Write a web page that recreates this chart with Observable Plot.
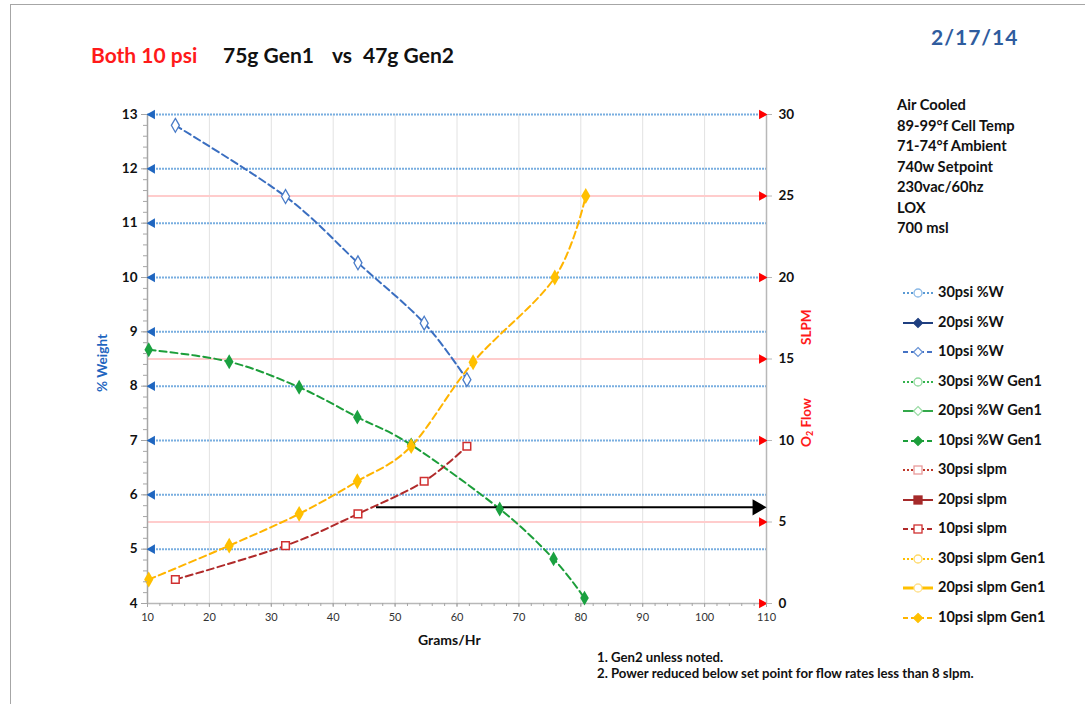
<!DOCTYPE html>
<html>
<head>
<meta charset="utf-8">
<script src="https://cdn.jsdelivr.net/npm/d3@7"></script>
<script src="https://cdn.jsdelivr.net/npm/@observablehq/plot@0.6"></script>
<style>
  html, body { margin: 0; padding: 0; background: #fff; }
  #wrap { position: relative; width: 1085px; height: 704px; overflow: hidden; font-family: Lato, "Open Sans", sans-serif; }
  .t { position: absolute; white-space: pre; font-weight: bold; line-height: 1; }
  #frame { position: absolute; left: 10px; top: 4px; width: 1090px; height: 720px; border: 1.5px solid #a6a6a6; box-sizing: border-box; }
  #legend { position: absolute; left: 895px; top: 280px; }
  .li { position: absolute; left: 0; height: 20px; width: 190px; }
  .li svg { position: absolute; left: 0; top: 0; }
  .li span { position: absolute; left: 43px; top: 3px; font-weight: bold; font-size: 14.5px; color: #111; white-space: pre; }
  .rot { transform: rotate(-90deg); transform-origin: 0 0; }
</style>
</head>
<body>
<div id="wrap">
  <div id="frame"></div>
  <div id="chart" style="position:absolute;left:0;top:0;"></div>
  <div class="t" style="left:91px;top:44px;font-size:21px;color:#ff1a1a;">Both 10 psi</div>
  <div class="t" style="left:223px;top:44px;font-size:21px;color:#111;">75g Gen1</div>
  <div class="t" style="left:332px;top:44px;font-size:21px;color:#111;">vs</div>
  <div class="t" style="left:363px;top:44px;font-size:21px;color:#111;">47g Gen2</div>
  <div class="t" style="left:931px;top:26px;font-size:21px;color:#2f5c9e;letter-spacing:1px;">2/17/14</div>
  <div id="info"></div>
  <div id="legend"></div>
  <div class="t rot" style="left:96px;top:392px;font-size:13.5px;color:#1f66c0;">% Weight</div>
  <div class="t rot" style="left:800px;top:447px;font-size:13.5px;color:#ff1a1a;">O<sub style="font-size:9px;vertical-align:-2px">2</sub> Flow</div>
  <div class="t rot" style="left:800px;top:345px;font-size:13.5px;color:#ff1a1a;">SLPM</div>
  <div class="t" style="left:418px;top:633px;font-size:14px;color:#111;">Grams/Hr</div>
  <div class="t" style="left:597px;top:651px;font-size:13.2px;color:#111;">1. Gen2 unless noted.</div>
  <div class="t" style="left:597px;top:667px;font-size:13.2px;color:#111;">2. Power reduced below set point for flow rates less than 8 slpm.</div>
</div>
<script>
// ---- data ----
const gen2WeightX = [14.5, 32.3, 44.0, 54.7, 61.6];
const gen2WeightY = [12.8, 11.49, 10.27, 9.16, 8.12];
const gen1WeightX = [10.2, 23.2, 34.5, 43.9, 52.6, 66.9, 75.6, 80.6];
const gen1WeightY = [8.67, 8.45, 7.98, 7.43, 6.92, 5.74, 4.82, 4.1];
const gen2FlowX = [14.5, 32.3, 44.0, 54.7, 61.6];
const gen2FlowY = [1.47, 3.55, 5.5, 7.5, 9.65];
const gen1FlowX = [10.2, 23.2, 34.5, 43.9, 52.6, 62.6, 75.8, 80.8];
const gen1FlowY = [1.47, 3.55, 5.5, 7.5, 9.65, 14.8, 20.0, 25.0];
const arrowLine = {x1: 47, x2: 110, y: 5.77};

const xTicks = [10, 20, 30, 40, 50, 60, 70, 80, 90, 100, 110];
const leftTicks = [4, 5, 6, 7, 8, 9, 10, 11, 12, 13];
const rightTicks = [0, 5, 10, 15, 20, 25, 30];
const blueGrid = [5, 6, 7, 8, 9, 10, 11, 12, 13];
const pinkGrid = [5, 15, 25];
const xGrid = [20, 30, 40, 50, 60, 70, 80, 90, 100];

const infoLines = ["Air Cooled", "89-99°f Cell Temp", "71-74°f Ambient", "740w Setpoint", "230vac/60hz", "LOX", "700 msl"];
const legendLabels = ["30psi %W", "20psi %W", "10psi %W", "30psi %W Gen1", "20psi %W Gen1", "10psi %W Gen1",
  "30psi slpm", "20psi slpm", "10psi slpm", "30psi slpm Gen1", "20psi slpm Gen1", "10psi slpm Gen1"];

// right axis (SLPM 0..30) mapped onto left axis (%W 4..13)
const toLeft = v => 4 + v * 9 / 30;
const toRight = v => Math.round((v - 4) * 30 / 9);

const zip = (xs, ys) => xs.map((x, i) => ({x, y: ys[i]}));
const g2w = zip(gen2WeightX, gen2WeightY);
const g1w = zip(gen1WeightX, gen1WeightY);
const g2f = zip(gen2FlowX, gen2FlowY.map(toLeft));
const g1f = zip(gen1FlowX, gen1FlowY.map(toLeft));

const C = {blue: "#3a6ec0", green: "#1c9e3a", red: "#b02a2a", orange: "#ffb400"};
const dash = "7,4";
const curve = "cardinal";
const minorY = d3.range(4, 13.001, 0.2).map(v => +v.toFixed(1));
const minorX = d3.range(10, 110.001, 2);

const chart = Plot.plot({
  width: 1085, height: 704,
  marginLeft: 147, marginRight: 319, marginTop: 114, marginBottom: 101,
  x: {domain: [10, 110]},
  y: {domain: [4, 13]},
  style: {fontFamily: "Lato, 'Open Sans', sans-serif", background: "transparent", overflow: "visible"},
  marks: [
    Plot.ruleX(xGrid, {stroke: "#e2e2e2", strokeWidth: 1}),
    Plot.ruleY(pinkGrid.map(toLeft), {x1: 10, x2: 110, stroke: "#ffcccc", strokeWidth: 2.2}),
    Plot.ruleY(blueGrid, {x1: 10, x2: 110, stroke: "#79aee0", strokeWidth: 2, strokeDasharray: "2,1"}),
    Plot.ruleX([10], {stroke: "#a6a6a6", strokeWidth: 1.5}),
    Plot.ruleX([110], {stroke: "#b8b8b8", strokeWidth: 1.5}),
    Plot.ruleY([4], {stroke: "#b8b8b8", strokeWidth: 1.5}),
    Plot.dot(blueGrid, {x: 10.75, y: d => d, symbol: "triangle", rotate: -90, r: 3.6, fill: "#1f66c0"}),
    Plot.dot(rightTicks.map(toLeft), {x: 109.25, y: d => d, symbol: "triangle", rotate: 90, r: 3.6, fill: "#ff0000"}),
    // series lines
    Plot.line(g2w, {x: "x", y: "y", stroke: C.blue, strokeWidth: 2, strokeDasharray: dash, curve}),
    Plot.line(g1w, {x: "x", y: "y", stroke: C.green, strokeWidth: 2, strokeDasharray: dash, curve}),
    Plot.line(g2f, {x: "x", y: "y", stroke: C.red, strokeWidth: 2, strokeDasharray: dash, curve}),
    Plot.line(g1f, {x: "x", y: "y", stroke: C.orange, strokeWidth: 2, strokeDasharray: dash, curve}),
    // black annotation arrow
    Plot.ruleY([arrowLine], {x1: "x1", x2: d => d.x2 - 2, y: "y", stroke: "#000", strokeWidth: 2}),
    Plot.dot([arrowLine], {x: d => d.x2 - 1.5, y: "y", symbol: "triangle", rotate: 90, r: 6, fill: "#000"}),
    // markers
    Plot.dot(g2w, {x: "x", y: "y", symbol: "diamond", r: 4.2, fill: "#fff", stroke: "#4a7cc8", strokeWidth: 1.3}),
    Plot.dot(g1w, {x: "x", y: "y", symbol: "diamond", r: 4.5, fill: "#1aa140"}),
    Plot.dot(g2f, {x: "x", y: "y", symbol: "square", r: 4.3, fill: "#fff", stroke: "#d03030", strokeWidth: 1.5}),
    Plot.dot(g1f, {x: "x", y: "y", symbol: "diamond", r: 4.8, fill: "#ffc000"}),
    // axes
    Plot.axisY(minorY, {anchor: "left", tickSize: 4, tickFormat: () => "", stroke: "#a6a6a6", label: null}),
    Plot.axisY(leftTicks, {anchor: "left", tickSize: 6, tickPadding: 4, fontSize: 13.5, fontWeight: "bold", fill: "#111", stroke: "#a6a6a6", tickFormat: d => String(d), label: null}),
    Plot.axisY(rightTicks.map(toLeft), {anchor: "right", tickSize: 5, tickPadding: 7, fontSize: 13.5, fontWeight: "bold", fill: "#111", stroke: "#b8b8b8", tickFormat: toRight, label: null}),
    Plot.axisX(minorX, {anchor: "bottom", tickSize: 3, tickFormat: () => "", stroke: "#a6a6a6", label: null}),
    Plot.axisX(xTicks, {anchor: "bottom", tickSize: 4, tickPadding: 6, fontSize: 11, fill: "#333", stroke: "#a6a6a6", tickFormat: d => String(d), label: null})
  ]
});
document.getElementById("chart").appendChild(chart);

// info block
const info = document.getElementById("info");
infoLines.forEach((s, i) => {
  const d = document.createElement("div");
  d.className = "t";
  d.style.cssText = `left:897px;top:${97 + i * 20.5}px;font-size:14.7px;color:#111;`;
  d.textContent = s;
  info.appendChild(d);
});

// legend
const styles = [
  {c: "#5b9bd5", dash: "2,2", w: 2, m: "circle", mf: "#fff", ms: "#8ab8e6"},
  {c: "#1f3f80", dash: null, w: 2, m: "diamond", mf: "#1f3f80", ms: "#1f3f80"},
  {c: "#4472c4", dash: "5,3", w: 2, m: "diamond", mf: "#fff", ms: "#6a94d6"},
  {c: "#33b34d", dash: "2,2", w: 2, m: "circle", mf: "#fff", ms: "#8fd89c"},
  {c: "#33a84a", dash: null, w: 2, m: "diamond", mf: "#fff", ms: "#9bdca6"},
  {c: "#1c9e3a", dash: "5,3", w: 2, m: "diamond", mf: "#1c9e3a", ms: "#1c9e3a"},
  {c: "#c0392b", dash: "2,2", w: 2, m: "square", mf: "#fff", ms: "#e99a9a"},
  {c: "#a52a2a", dash: null, w: 2, m: "square", mf: "#a52a2a", ms: "#a52a2a"},
  {c: "#b02a2a", dash: "5,3", w: 2, m: "square", mf: "#fff", ms: "#d03030"},
  {c: "#ffc000", dash: "2,2", w: 2, m: "circle", mf: "#fff", ms: "#ffd966"},
  {c: "#ffc000", dash: null, w: 3, m: "circle", mf: "#fff", ms: "#ffe08a"},
  {c: "#ffb400", dash: "5,3", w: 2, m: "diamond", mf: "#ffc000", ms: "#ffc000"}
];
const leg = document.getElementById("legend");
legendLabels.forEach((lab, i) => {
  const s = styles[i];
  const d = document.createElement("div");
  d.className = "li";
  d.style.top = (i * 29.5) + "px";
  let marker = "";
  if (s.m === "circle") marker = `<circle cx="23" cy="13" r="4" fill="${s.mf}" stroke="${s.ms}" stroke-width="1.3"/>`;
  if (s.m === "diamond") marker = `<path d="M23 8.5 L27.5 13 L23 17.5 L18.5 13 Z" fill="${s.mf}" stroke="${s.ms}" stroke-width="1.2"/>`;
  if (s.m === "square") marker = `<rect x="19" y="9" width="8" height="8" fill="${s.mf}" stroke="${s.ms}" stroke-width="1.3"/>`;
  d.innerHTML = `<svg width="42" height="24"><line x1="8" y1="13" x2="38" y2="13" stroke="${s.c}" stroke-width="${s.w}" ${s.dash ? `stroke-dasharray="${s.dash}"` : ""}/>${marker}</svg><span>${lab}</span>`;
  leg.appendChild(d);
});
</script>
</body>
</html>
